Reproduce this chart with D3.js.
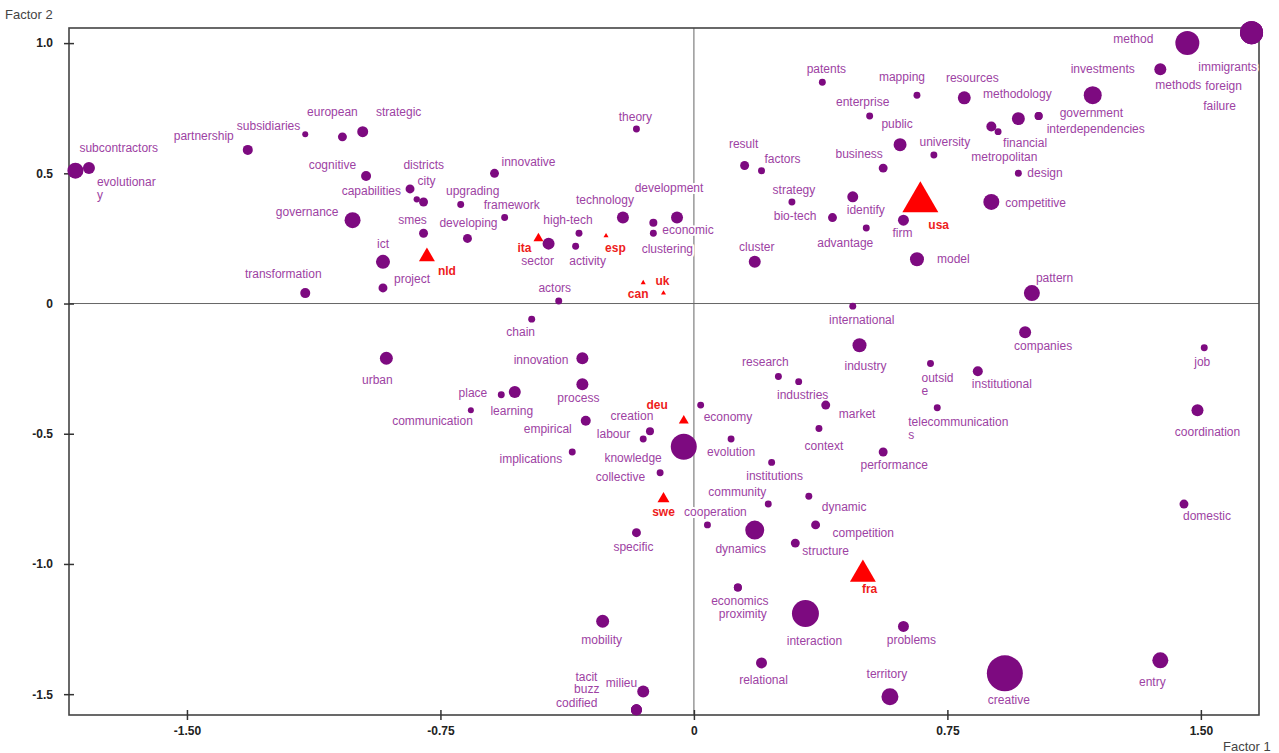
<!DOCTYPE html>
<html>
<head>
  <meta charset="utf-8">
  <title>Correspondence analysis: Factor 1 vs Factor 2</title>
  <script src="https://d3js.org/d3.v7.min.js"></script>
  <style>
    body { margin: 0; background: #fff; }
    text { font-family: "Liberation Sans", Arial, sans-serif; }
  </style>
</head>
<body>
<script>
// words (purple bubbles)
const words = ["subcontractors","evolutionary","partnership","subsidiaries","european","strategic","cognitive","capabilities","districts","city",
  "upgrading","innovative","governance","smes","developing","framework","high-tech","activity","technology","sector",
  "theory","development","economic","clustering","result","factors","patents","mapping","enterprise","public",
  "university","business","strategy","bio-tech","identify","advantage","firm","cluster","model","resources",
  "metropolitan","financial","methodology","government","interdependencies","investments","methods","method","immigrants","foreign",
  "failure","design","competitive","transformation","ict","project","actors","chain","urban","innovation",
  "place","learning","process","communication","empirical","creation","labour","knowledge","implications","collective",
  "economy","evolution","research","industries","international","industry","market","context","outside","telecommunications",
  "performance","institutions","community","dynamic","cooperation","dynamics","competition","structure","economics","proximity",
  "interaction","problems","relational","territory","creative","entry","domestic","coordination","job","institutional",
  "companies","pattern","specific","mobility","milieu","tacit","buzz","codified"];

const factor1 = [-1.83,-1.79,-1.32,-1.15,-1.04,-0.98,-0.97,-0.84,-0.82,-0.80,
  -0.69,-0.59,-1.01,-0.80,-0.67,-0.56,-0.34,-0.35,-0.21,-0.43,
  -0.17,-0.05,-0.12,-0.12,0.15,0.20,0.38,0.66,0.52,0.61,
  0.71,0.56,0.29,0.41,0.47,0.51,0.62,0.18,0.66,0.80,
  0.88,0.90,0.96,1.02,1.02,1.18,1.38,1.46,1.65,1.65,
  1.65,0.96,0.88,-1.15,-0.92,-0.92,-0.40,-0.48,-0.91,-0.33,
  -0.57,-0.53,-0.33,-0.66,-0.32,-0.13,-0.15,-0.03,-0.36,-0.10,
  0.02,0.11,0.25,0.31,0.47,0.49,0.39,0.37,0.70,0.72,
  0.56,0.23,0.22,0.34,0.04,0.18,0.36,0.30,0.13,0.13,
  0.33,0.62,0.20,0.58,0.92,1.38,1.45,1.49,1.51,0.84,
  0.98,1.00,-0.17,-0.27,-0.15,-0.17,-0.17,-0.17];

const factor2 = [0.51,0.52,0.59,0.65,0.64,0.66,0.49,0.44,0.40,0.39,
  0.38,0.50,0.32,0.27,0.25,0.33,0.27,0.22,0.33,0.23,
  0.67,0.33,0.31,0.27,0.53,0.51,0.85,0.80,0.72,0.61,
  0.57,0.52,0.39,0.33,0.41,0.29,0.32,0.16,0.17,0.79,
  0.68,0.66,0.71,0.72,0.72,0.80,0.90,1.00,1.04,1.04,
  1.04,0.50,0.39,0.04,0.16,0.06,0.01,-0.06,-0.21,-0.21,
  -0.35,-0.34,-0.31,-0.41,-0.45,-0.49,-0.52,-0.55,-0.57,-0.65,
  -0.39,-0.52,-0.28,-0.30,-0.01,-0.16,-0.39,-0.48,-0.23,-0.40,
  -0.57,-0.61,-0.77,-0.74,-0.85,-0.87,-0.85,-0.92,-1.09,-1.09,
  -1.19,-1.24,-1.38,-1.51,-1.42,-1.37,-0.77,-0.41,-0.17,-0.26,
  -0.11,0.04,-0.88,-1.22,-1.49,-1.56,-1.56,-1.56];

const weight = [64,36,25,9,20,30,25,20,10,20,
  12,20,64,20,20,12,12,12,36,36,
  12,36,16,12,20,12,12,12,12,42,
  12,20,12,20,30,12,30,36,49,42,
  25,12,42,16,16,81,36,144,132,132,
  132,12,64,25,49,20,12,12,42,36,
  12,36,36,9,25,16,12,169,12,12,
  12,12,12,12,12,49,20,12,12,12,
  20,12,12,12,12,90,20,20,16,16,
  182,30,30,72,324,64,20,36,12,25,
  36,64,20,42,36,30,30,30];

// countries (red triangles)
const countries = ["usa","fra","nld","swe","deu","ita","esp","can","uk"];
const countryF1 = [0.67,0.50,-0.79,-0.09,-0.03,-0.46,-0.26,-0.15,-0.09];
const countryF2 = [0.39,-1.04,0.18,-0.75,-0.45,0.25,0.26,0.08,0.04];
const countryWeight = [560,290,110,62,43,43,11,11,11];

const xTicks = [-1.5,-0.75,0,0.75,1.5];
const yTicks = [-1.5,-1,-0.5,0,0.5,1];

// label placement: [anchor, dx, dy] in px from the marker
const place = {
  subcontractors:["s",4,-23], evolutionary:["s",8,14], partnership:["e",-14,-14], subsidiaries:["e",-5,-8],
  european:["m",-10,-25], strategic:["m",36,-20], cognitive:["e",-10,-11], capabilities:["e",-9,2],
  districts:["m",7,-35], city:["m",3,-21], upgrading:["m",12,-14], innovative:["s",7,-12],
  governance:["e",-14,-8], smes:["m",-11,-13], developing:["m",1,-16], framework:["m",7,-13],
  "high-tech":["m",-11,-13], activity:["m",12,15], technology:["m",-18,-18], sector:["m",-11,17],
  theory:["m",-1,-12], development:["m",-8,-30], economic:["s",9,7], clustering:["m",14,16],
  result:["m",-1,-22], factors:["m",21,-12], patents:["m",4,-13], mapping:["m",-15,-18],
  enterprise:["m",-7,-14], public:["m",-3,-21], university:["m",11,-13], business:["m",-24,-14],
  strategy:["m",2,-12], "bio-tech":["e",-16,-2], identify:["m",13,13], advantage:["m",-21,15],
  firm:["m",-1,13], cluster:["m",2,-15], model:["s",20,0], resources:["m",8,-20],
  metropolitan:["m",13,30], financial:["m",27,11], methodology:["m",-1,-25], government:["s",21,-3],
  interdependencies:["s",8,13], investments:["m",10,-26], methods:["m",18,16], method:["e",-34,-4],
  immigrants:["m",-24,34], foreign:["m",-28,53], failure:["m",-32,73], design:["s",9,-1],
  competitive:["s",14,1], transformation:["m",-22,-19], ict:["m",0,-18], project:["s",11,-9],
  actors:["m",-4,-13], chain:["m",-11,13], urban:["m",-9,22], innovation:["e",-14,2],
  place:["e",-14,-2], learning:["m",-3,19], process:["m",-4,14], communication:["e",2,10],
  empirical:["e",-14,8], creation:["m",-18,-15], labour:["e",-13,-5], knowledge:["e",-22,11],
  implications:["e",-10,7], collective:["e",-15,4], economy:["s",3,12], evolution:["m",0,13],
  research:["m",-13,-15], industries:["m",4,13], international:["m",9,14], industry:["m",6,21],
  market:["s",13,9], context:["m",5,17], outside:["s",-9,14], telecommunications:["s",-29,14],
  performance:["m",11,13], institutions:["m",3,13], community:["e",-2,-12], dynamic:["s",13,11],
  cooperation:["m",8,-13], dynamics:["m",-14,19], competition:["s",17,8], structure:["s",7,8],
  economics:["m",2,13], proximity:["m",5,26], interaction:["m",9,27], problems:["m",8,13],
  relational:["m",2,17], territory:["m",-3,-23], creative:["m",4,26], entry:["m",-8,21],
  domestic:["s",-1,12], coordination:["m",10,21], job:["m",-2,14], institutional:["s",-6,13],
  companies:["m",18,14], pattern:["s",4,-15], specific:["m",-3,14], mobility:["m",-1,19],
  milieu:["e",-6,-9], tacit:["e",-39,-33], buzz:["e",-37,-21], codified:["e",-39,-7],
  usa:["s",8,23], fra:["s",-1,14], nld:["s",11,14], swe:["m",0,13], deu:["e",-16,-16],
  ita:["e",-7,9], esp:["s",-1,12], can:["m",-5,11], uk:["m",-1,-12]
};
// labels broken over two lines after n characters
const wrapAt = { evolutionary: 11, outside: 6, telecommunications: 17 };

const margin = { top: 28, right: 20, bottom: 38, left: 69 },
  width = 1279 - margin.left - margin.right,
  height = 753 - margin.top - margin.bottom;

const svg = d3.select("body").append("svg")
  .attr("width", 1279)
  .attr("height", 753);

const g = svg.append("g")
  .attr("transform", "translate(" + margin.left + "," + margin.top + ")");

const x = d3.scaleLinear().domain([-1.849, 1.672]).range([0, width]);
const y = d3.scaleLinear().domain([-1.580, 1.058]).range([height, 0]);
const r = d3.scaleSqrt().domain([0, 324]).range([0, 18]);

const anchorOf = { s: "start", m: "middle", e: "end" };

const points = words.map((w, i) => ({ name: w, f1: factor1[i], f2: factor2[i], w: weight[i] }));
const cpoints = countries.map((c, i) => ({ name: c, f1: countryF1[i], f2: countryF2[i], w: countryWeight[i] }));

// zero lines
g.append("line")
  .attr("x1", x(0)).attr("x2", x(0))
  .attr("y1", 0).attr("y2", height)
  .attr("stroke", "#666").attr("stroke-width", 1);
g.append("line")
  .attr("x1", 0).attr("x2", width)
  .attr("y1", y(0)).attr("y2", y(0))
  .attr("stroke", "#666").attr("stroke-width", 1);

// frame
g.append("rect")
  .attr("width", width).attr("height", height)
  .attr("fill", "none")
  .attr("stroke", "#444")
  .attr("stroke-width", 1.6);

// axes
const fmtY = d => d === 0 ? "0" : d.toFixed(1);
const fmtX = d => d === 0 ? "0" : d.toFixed(2);

const yAxis = g.append("g")
  .call(d3.axisLeft(y).tickValues(yTicks).tickFormat(fmtY).tickSize(0).tickPadding(16));
const xAxis = g.append("g")
  .attr("transform", "translate(0," + height + ")")
  .call(d3.axisBottom(x).tickValues(xTicks).tickFormat(fmtX).tickSize(0).tickPadding(11));

[yAxis, xAxis].forEach(ax => {
  ax.select(".domain").remove();
  ax.selectAll("text")
    .attr("font-family", "'Liberation Sans', Arial, sans-serif")
    .attr("font-size", 12)
    .attr("font-weight", "bold")
    .attr("fill", "#222");
});
yAxis.selectAll(".tick line").attr("x1", -5).attr("x2", 5).attr("stroke", "#333").attr("stroke-width", 1.5);
xAxis.selectAll(".tick line").attr("y1", -5).attr("y2", 5).attr("stroke", "#333").attr("stroke-width", 1.5);

// axis titles
svg.append("text")
  .attr("x", 5).attr("y", 19)
  .attr("font-size", 13)
  .attr("fill", "#444")
  .text("Factor 2");
svg.append("text")
  .attr("x", 1223).attr("y", 751)
  .attr("font-size", 13)
  .attr("fill", "#444")
  .text("Factor 1");

// labels (white halo hides lines behind them)
function addLabels(data, cls, color, bold) {
  const t = g.selectAll("." + cls)
    .data(data)
    .enter()
    .append("text")
    .attr("class", cls)
    .attr("text-anchor", d => anchorOf[place[d.name][0]])
    .attr("font-size", 12)
    .attr("font-weight", bold ? "bold" : "normal")
    .attr("fill", color)
    .attr("stroke", "#fff")
    .attr("stroke-width", 4)
    .attr("stroke-linejoin", "round")
    .attr("paint-order", "stroke");

  t.each(function(d) {
    const p = place[d.name];
    const px = x(d.f1) + p[1], py = y(d.f2) + p[2];
    const lines = wrapAt[d.name] ? [d.name.slice(0, wrapAt[d.name]), d.name.slice(wrapAt[d.name])] : [d.name];
    lines.forEach((ln, k) => {
      d3.select(this).append("tspan")
        .attr("x", px)
        .attr("y", py + k * 13)
        .attr("dy", "0.35em")
        .text(ln);
    });
  });
}

addLabels(points, "wlabel", "#9d42a3", false);
addLabels(cpoints, "clabel", "#ee1c1c", true);

// bubbles
g.selectAll(".word")
  .data(points.slice().sort((a, b) => b.w - a.w))
  .enter()
  .append("circle")
  .attr("class", "word")
  .attr("cx", d => x(d.f1))
  .attr("cy", d => y(d.f2))
  .attr("r", d => r(d.w))
  .attr("fill", "#7d0a80");

// country triangles
const tri = d3.symbol().type(d3.symbolTriangle);
g.selectAll(".country")
  .data(cpoints)
  .enter()
  .append("path")
  .attr("class", "country")
  .attr("transform", d => "translate(" + x(d.f1) + "," + y(d.f2) + ")")
  .attr("d", d => tri.size(d.w)())
  .attr("fill", "#ff0000");
</script>
</body>
</html>
